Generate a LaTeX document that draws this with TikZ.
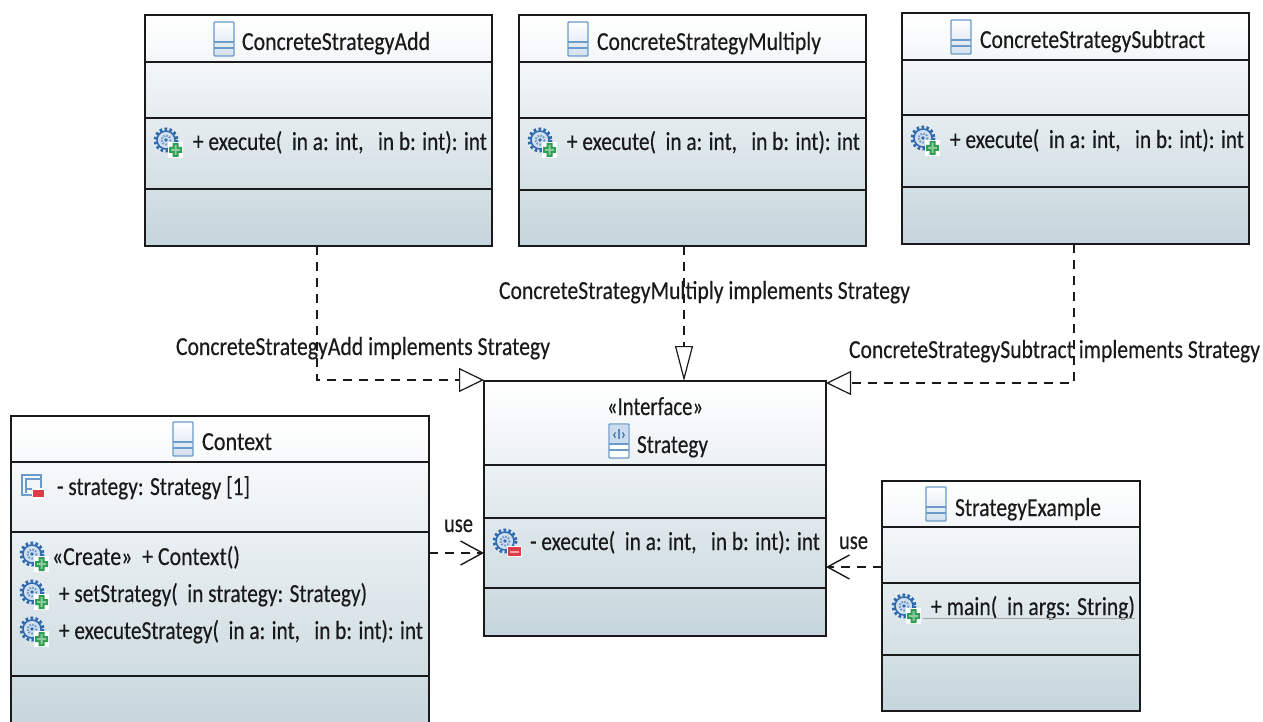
\documentclass[tikz,border=0pt]{standalone}
\usepackage{fontspec}
\usepackage{graphicx}
\setmainfont{Carlito}[FakeBold=0.35]
\usetikzlibrary{arrows.meta}
\definecolor{inkc}{HTML}{1A1A1A}
\definecolor{boxbot}{HTML}{C5D5DC}
\definecolor{iconblue}{HTML}{6C9BC9}
\definecolor{gearblue}{HTML}{2F69AE}
\definecolor{plusgreen}{HTML}{2E9E52}
\definecolor{minusred}{HTML}{DD3B4A}
\newcommand\fitw[2]{\setbox0=\hbox{#2}\pgfmathsetmacro\fitratio{#1/\the\wd0}\scalebox{\fitratio}[1]{#2}}
\tikzset{
  classbox/.style={draw=inkc,line width=1.6pt,top color=white,bottom color=boxbot,inner sep=0pt,outer sep=0pt},
  sepline/.style={draw=inkc,line width=1.6pt},
  txt/.style={anchor=base west,inner sep=0pt,outer sep=0pt,text=inkc,font=\fontsize{26}{29}\selectfont},
  dep/.style={draw=inkc,line width=1.2pt,dash pattern=on 9pt off 7pt},
  real/.style={-{Triangle[open,fill=white,length=25pt,width=24pt,line width=1.2pt]}},
  realv/.style={-{Triangle[open,fill=white,length=35pt,width=18pt,line width=1.2pt]}},
  usearrow/.style={-{Straight Barb[length=22pt,width=24pt,line width=1.4pt]}},
  classicon/.pic={
    \draw[iconblue,line width=1.4pt,top color=white,bottom color=iconblue!30,rounded corners=.8pt] (-10,-17) rectangle (10,17);
    \draw[iconblue,line width=1.4pt] (-10,3) -- (10,3) (-10,9) -- (10,9);
  },
  ifaceicon/.pic={
    \draw[iconblue,line width=1.4pt,fill=white,rounded corners=.8pt] (-10,-17) rectangle (10,17);
    \fill[iconblue!35] (-9,-16) rectangle (9,2);
    \node[inner sep=0pt,text=gearblue,font=\fontsize{15}{15}\selectfont] at (0,-7) {‹I›};
    \draw[iconblue,line width=1.4pt] (-10,3) -- (10,3) (-10,9) -- (10,9);
  },
  gear/.pic={
    \fill[gearblue!22] (0,0) circle (10.5);
    \draw[gearblue,line width=3pt,dash pattern=on 2.6pt off 2.4pt] (0,0) circle (11);
    \draw[gearblue,line width=1.5pt] (0,0) circle (9);
    \draw[gearblue!70,line width=2pt,dash pattern=on 1.5pt off 1.5pt] (0,0) circle (4.5);
    \fill[gearblue] (0,0) circle (1.8);
  },
  gearplus/.pic={
    \pic at (0,0) {gear};
    \fill[white] (2,2) rectangle (17,18);
    \fill[plusgreen] (6.5,3) rectangle (12.5,17) (3,7) rectangle (16,13);
    \fill[plusgreen!55] (8.5,5) rectangle (10.5,15) (5,9) rectangle (14,11);
  },
  gearminus/.pic={
    \pic at (0,0) {gear};
    \fill[white] (2,5) rectangle (17,16);
    \fill[minusred] (3,6) rectangle (16,15);
    \fill[white!55!minusred] (5,9.5) rectangle (14,11.5);
  },
  attricon/.pic={
    \draw[iconblue,line width=1.4pt] (-10,-11) rectangle (9,9);
    \draw[iconblue,line width=1.4pt] (-6,7) -- (-6,-7) -- (9,-7);
    \fill[white] (0,2) rectangle (13,13);
    \fill[minusred] (1,4) rectangle (12,11);
    \draw[iconblue,line width=1.4pt] (-10,9) -- (0,9) (-6,3) -- (0,3);
  }
}
\newcommand\umlclass[7]{%
  \pgfmathsetmacro\cw{#3-#2}\pgfmathsetmacro\ch{#7-#4}%
  \pgfmathsetmacro\cx{(#2+#3)/2}\pgfmathsetmacro\cy{(#4+#7)/2}%
  \node[classbox,minimum width=\cw pt,minimum height=\ch pt] (#1) at (\cx,\cy) {};
}
\newcommand\seps[5]{\draw[sepline] (#1,#3) -- (#2,#3) (#1,#4) -- (#2,#4) (#1,#5) -- (#2,#5);}
\begin{document}
\begin{tikzpicture}[x=1pt,y=-1pt]
\useasboundingbox (0,0) rectangle (1263,722);
\clip (0,0) rectangle (1263,722);
% classes
\umlclass{add}{145}{492}{15}{0}{0}{246}\seps{145}{492}{62}{118}{189}
\umlclass{mul}{519}{866}{15}{0}{0}{246}\seps{519}{866}{62}{118}{190}
\umlclass{sub}{902}{1249}{13}{0}{0}{244}\seps{902}{1249}{60}{115}{187}
\umlclass{strat}{484}{826}{381}{0}{0}{636}\seps{484}{826}{465}{518}{588}
\umlclass{ctx}{11}{429}{416}{0}{0}{732}\seps{11}{429}{462}{532}{676}
\umlclass{ex}{882}{1140}{481}{0}{0}{711}\seps{882}{1140}{527}{583}{655}
% connector ends
\coordinate (addout) at (317,246);
\coordinate (addin) at (484,380);
\coordinate (mulout) at (684,246);
\coordinate (mulin) at (684,381);
\coordinate (subout) at (1074,244);
\coordinate (subin) at (826,383);
\coordinate (ctxout) at (429,553);
\coordinate (ctxin) at (484,553);
\coordinate (exout) at (882,567);
\coordinate (exin) at (826,567);
\draw[dep,real] (addout) |- (addin);
\draw[dep,realv] (mulout) -- (mulin);
\draw[dep,real] (subout) |- (subin);
\draw[dep,usearrow] (ctxout) -- (ctxin);
\draw[dep,usearrow] (exout) -- (exin);
% icons
\pic at (224,39) {classicon};
\pic at (578,39) {classicon};
\pic at (961,37) {classicon};
\pic at (183,439) {classicon};
\pic at (619,441) {ifaceicon};
\pic at (936,504) {classicon};
\pic at (166,140) {gearplus};
\pic at (540,140) {gearplus};
\pic at (923,138) {gearplus};
\pic at (505,541) {gearminus};
\pic at (32,554) {gearplus};
\pic at (32,592) {gearplus};
\pic at (32,629) {gearplus};
\pic at (904,606) {gearplus};
\pic at (32,486) {attricon};
% compartment texts
\node[txt] (t1) at (242,50) {\fitw{188}{ConcreteStrategyAdd}};
\node[txt] (t2) at (597,50) {\fitw{224}{ConcreteStrategyMultiply}};
\node[txt] (t3) at (980,48) {\fitw{225}{ConcreteStrategySubtract}};
\node[txt] (t4) at (193,150) {\fitw{294}{+ execute(\ \ in a: int,\ \ \ in b: int): int}};
\node[txt] (t5) at (567,150) {\fitw{293}{+ execute(\ \ in a: int,\ \ \ in b: int): int}};
\node[txt] (t6) at (950,148) {\fitw{294}{+ execute(\ \ in a: int,\ \ \ in b: int): int}};
\node[txt] (t7) at (607,415) {\fitw{96}{«Interface»}};
\node[txt] (t8) at (637,453) {\fitw{71}{Strategy}};
\node[txt] (t9) at (530,550) {\fitw{290}{- execute(\ \ in a: int,\ \ \ in b: int): int}};
\node[txt] (t10) at (202,450) {\fitw{70}{Context}};
\node[txt] (t11) at (57,495) {\fitw{193}{- strategy: Strategy [1]}};
\node[txt] (t12) at (52,565) {\fitw{188}{«Create»\ \ + Context()}};
\node[txt] (t13) at (59,602) {\fitw{308}{+ setStrategy(\ \ in strategy: Strategy)}};
\node[txt] (t14) at (59,639) {\fitw{364}{+ executeStrategy(\ \ in a: int,\ \ \ in b: int): int}};
\node[txt] (t15) at (955,516) {\fitw{146}{StrategyExample}};
\node[txt] (t16) at (931,615) {\fitw{204}{+ main(\ \ in args: String)}};
\draw[gray!70,line width=.8pt] (923,618) -- (1135,618);
% connector labels
\node[txt] (l1) at (176,355) {\fitw{374}{ConcreteStrategyAdd implements Strategy}};
\node[txt] (l2) at (499,299) {\fitw{411}{ConcreteStrategyMultiply implements Strategy}};
\node[txt] (l3) at (849,358) {\fitw{411}{ConcreteStrategySubtract implements Strategy}};
\node[txt] (l4) at (444,532) {\fitw{29}{use}};
\node[txt] (l5) at (839,549) {\fitw{29}{use}};
\end{tikzpicture}
\end{document}
